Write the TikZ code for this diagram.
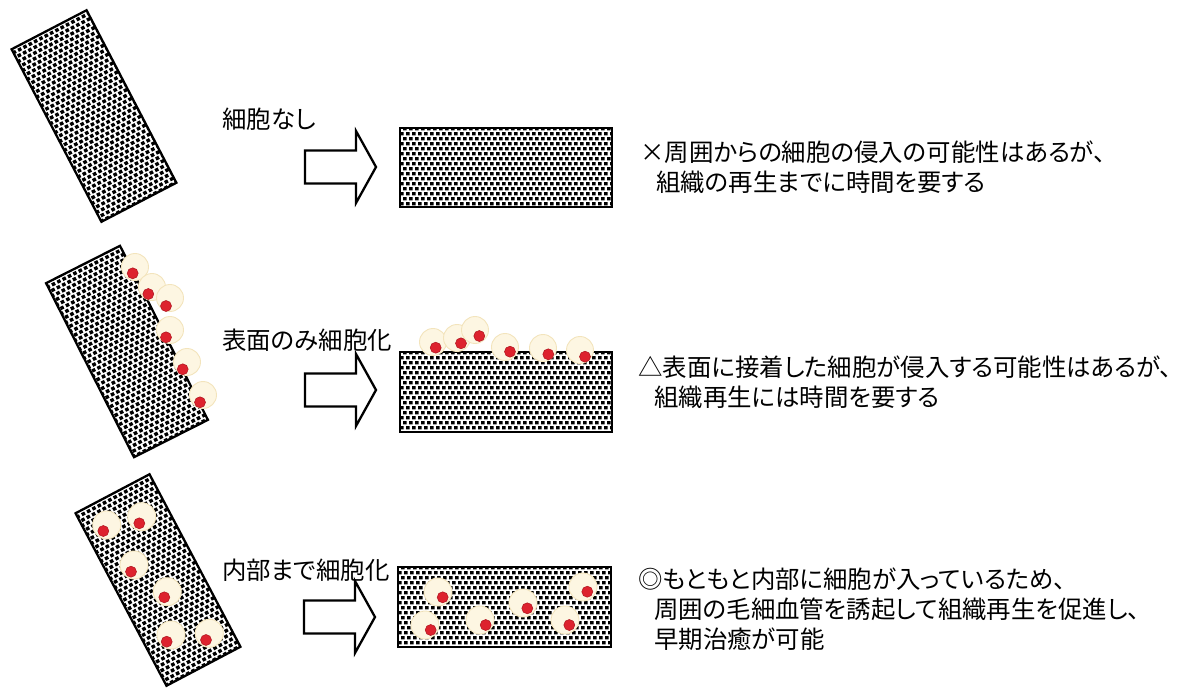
\documentclass[tikz,border=0pt]{standalone}
\usepackage{fontspec}
\newfontfamily\jp[RawFeature=+palt]{Noto Sans CJK JP}

\definecolor{zellgelb}{RGB}{253,246,226}
\definecolor{zellrand}{RGB}{243,228,188}
\definecolor{kernrot}{RGB}{221,34,46}
\definecolor{kernrand}{RGB}{175,22,32}

\begin{document}
\begin{tikzpicture}[x=0.02cm,y=-0.02cm,
  gewebe/.style={line width=1.3pt},
  pfeil/.style={line width=1.3pt,line join=miter},
  zelle/.style={fill=zellgelb,draw=zellrand,line width=0.5pt},
  kern/.style={fill=kernrot,draw=kernrand,line width=0.3pt},
  txt/.style={font=\jp\fontsize{13.9pt}{17pt}\selectfont,inner sep=0pt,anchor=west,align=left}]

\fill[white] (0,0) rectangle (1200,687);
\useasboundingbox (0,0) rectangle (1200,687);

%ZEILE NR. 1 (von oben): OHNE ZELLEN

%GEWEBE LINKS (gedreht)
\begin{scope}[shift={(94,116)},rotate=27.5]
\clip (-42.25,-97.25) rectangle (42.25,97.25);
\fill \foreach \j [evaluate=\j as \s using {mod(\j,2)*3}] in {0,...,40} {\foreach \i in {0,...,15} {(-46+\i*6+\s,-100+\j*5) rectangle ++(3.6,3.4)}};
\end{scope}
\draw [gewebe,shift={(94,116)},rotate=27.5] (-42.25,-97.25) rectangle (42.25,97.25);

%TEXT UND PFEIL
\node[txt] (label1) at (222,119) {細胞なし};
\draw [pfeil] (305,150.5) -- (356,150.5) -- (356,131) -- (376,167) -- (356,203) -- (356,183.5) -- (305,183.5) -- cycle;

%GEWEBE RECHTS
\begin{scope}
\clip (400,128) rectangle (612,207);
\fill \foreach \j [evaluate=\j as \s using {mod(\j,2)*3}] in {0,...,16} {\foreach \i in {0,...,36} {(397+\i*6+\s,127+\j*5) rectangle ++(3.6,3.4)}};
\end{scope}
\draw [gewebe] (400,128) rectangle (612,207);

\node[txt] (text1) at (640,167) {×周囲からの細胞の侵入の可能性はあるが、\\
\hspace*{9pt}組織の再生までに時間を要する};




%ZEILE NR. 2 (von oben): ZELLEN NUR AN DER OBERFLAECHE

%GEWEBE LINKS (gedreht)
\begin{scope}[shift={(127,351.5)},rotate=26.8]
\clip (-41.4,-97.5) rectangle (41.4,97.5);
\fill \foreach \j [evaluate=\j as \s using {mod(\j,2)*3}] in {0,...,40} {\foreach \i in {0,...,15} {(-46+\i*6+\s,-100+\j*5) rectangle ++(3.6,3.4)}};
\end{scope}
\draw [gewebe,shift={(127,351.5)},rotate=26.8] (-41.4,-97.5) rectangle (41.4,97.5);

%ZELLEN AM RAND
\filldraw [zelle] (135,267) circle (13.5);  \filldraw [kern] (132.7,273.3) circle (5.5);
\filldraw [zelle] (152,287) circle (13.5);  \filldraw [kern] (148.3,294) circle (5.5);
\filldraw [zelle] (170,298) circle (13.5);  \filldraw [kern] (166,306) circle (5.5);
\filldraw [zelle] (170,330) circle (13.5);  \filldraw [kern] (166,337.3) circle (5.5);
\filldraw [zelle] (187,362) circle (13.5);  \filldraw [kern] (182.7,369.3) circle (5.5);
\filldraw [zelle] (203,395) circle (13.5);  \filldraw [kern] (200,402.3) circle (5.5);

%TEXT UND PFEIL
\node[txt] (label2) at (222,340) {表面のみ細胞化};
\draw [pfeil] (305,373.5) -- (356,373.5) -- (356,354) -- (376,390) -- (356,426) -- (356,406.5) -- (305,406.5) -- cycle;

%GEWEBE RECHTS
\begin{scope}
\clip (400,352) rectangle (612,432);
\fill \foreach \j [evaluate=\j as \s using {mod(\j,2)*3}] in {0,...,16} {\foreach \i in {0,...,36} {(397+\i*6+\s,351+\j*5) rectangle ++(3.6,3.4)}};
\end{scope}
\draw [gewebe] (400,352) rectangle (612,432);

%ZELLEN OBEN
\filldraw [zelle] (433,342) circle (13.5);  \filldraw [kern] (435.7,347.7) circle (5.5);
\filldraw [zelle] (457,338) circle (13.5);  \filldraw [kern] (461,343.3) circle (5.5);
\filldraw [zelle] (475,330) circle (13.5);  \filldraw [kern] (479.3,336) circle (5.5);
\filldraw [zelle] (505,347) circle (13.5);  \filldraw [kern] (510,351.7) circle (5.5);
\filldraw [zelle] (543,348) circle (13.5);  \filldraw [kern] (548.3,354.3) circle (5.5);
\filldraw [zelle] (580,350) circle (13.5);  \filldraw [kern] (585,356.7) circle (5.5);

\node[txt] (text2) at (638,382) {△表面に接着した細胞が侵入する可能性はあるが、\\
\hspace*{9pt}組織再生には時間を要する};




%ZEILE NR. 3 (von oben): ZELLEN IM INNEREN

%GEWEBE LINKS (gedreht)
\begin{scope}[shift={(158,580)},rotate=27.8]
\clip (-41.8,-97.5) rectangle (41.8,97.5);
\fill \foreach \j [evaluate=\j as \s using {mod(\j,2)*3}] in {0,...,40} {\foreach \i in {0,...,15} {(-46+\i*6+\s,-100+\j*5) rectangle ++(3.6,3.4)}};
\end{scope}
\draw [gewebe,shift={(158,580)},rotate=27.8] (-41.8,-97.5) rectangle (41.8,97.5);

%ZELLEN INNEN
\filldraw [zelle] (106.7,525) circle (14);  \filldraw [kern] (103.3,531) circle (5.5);
\filldraw [zelle] (141.7,516.7) circle (14);  \filldraw [kern] (139.3,523.3) circle (5.5);
\filldraw [zelle] (134,565) circle (14);  \filldraw [kern] (131,571.7) circle (5.5);
\filldraw [zelle] (167.3,591.7) circle (14);  \filldraw [kern] (164.3,597.3) circle (5.5);
\filldraw [zelle] (171,635) circle (14);  \filldraw [kern] (166.7,641.7) circle (5.5);
\filldraw [zelle] (209.3,633.3) circle (14);  \filldraw [kern] (206,640) circle (5.5);

%TEXT UND PFEIL
\node[txt] (label3) at (222,570) {内部まで細胞化};
\draw [pfeil] (304,600.5) -- (355,600.5) -- (355,581) -- (375,617) -- (355,653) -- (355,633.5) -- (304,633.5) -- cycle;

%GEWEBE RECHTS
\begin{scope}
\clip (398,567) rectangle (611,647);
\fill \foreach \j [evaluate=\j as \s using {mod(\j,2)*3}] in {0,...,16} {\foreach \i in {0,...,36} {(395+\i*6+\s,566+\j*5) rectangle ++(3.6,3.4)}};
\end{scope}
\draw [gewebe] (398,567) rectangle (611,647);

%ZELLEN INNEN
\filldraw [zelle] (438,592) circle (14);  \filldraw [kern] (442.7,597.3) circle (5.5);
\filldraw [zelle] (425,625) circle (14);  \filldraw [kern] (430.7,630) circle (5.5);
\filldraw [zelle] (480,620) circle (14);  \filldraw [kern] (485.7,625) circle (5.5);
\filldraw [zelle] (523,603) circle (14);  \filldraw [kern] (527.3,608.3) circle (5.5);
\filldraw [zelle] (565,620) circle (14);  \filldraw [kern] (569.3,625) circle (5.5);
\filldraw [zelle] (583,587) circle (14);  \filldraw [kern] (587.3,591.7) circle (5.5);

\node[txt] (text3) at (638,609) {◎もともと内部に細胞が入っているため、\\
\hspace*{9pt}周囲の毛細血管を誘起して組織再生を促進し、\\
\hspace*{9pt}早期治癒が可能};

\end{tikzpicture}
\end{document}
